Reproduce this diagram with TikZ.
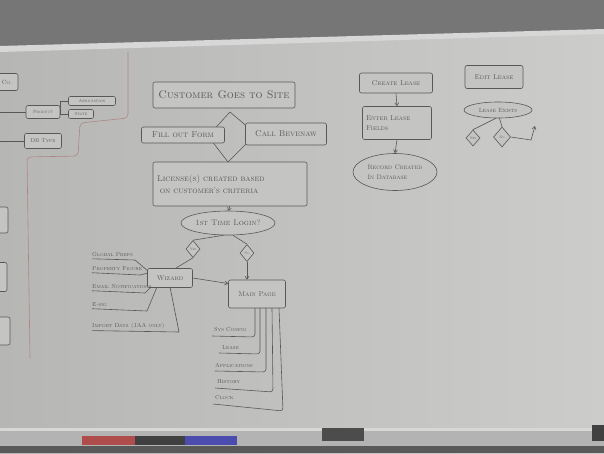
\documentclass[tikz,border=0pt]{standalone}
\usetikzlibrary{shapes.geometric,arrows.meta,calc}
\definecolor{inkc}{RGB}{88,88,88}
\definecolor{boardc}{RGB}{196,197,195}
\definecolor{boardl}{RGB}{182,183,181}
\definecolor{boardr}{RGB}{204,205,203}
\definecolor{wallc}{RGB}{118,118,118}
\definecolor{framec}{RGB}{214,215,214}
\definecolor{trayc}{RGB}{178,179,178}
\definecolor{redink}{RGB}{176,132,134}
\tikzset{
  ink/.style={draw=inkc, line width=0.6pt},
  arr/.style={ink, -{Straight Barb[length=3pt,width=4pt]}},
  box/.style={ink, rectangle, rounded corners=2pt, inner sep=1pt, fill=boardc, text=inkc, font=\scshape},
  oval/.style={ink, ellipse, inner sep=0pt, fill=boardc, text=inkc, font=\scshape},
  dia/.style={ink, diamond, inner sep=0pt, fill=boardc, text=inkc, font=\scshape\fontsize{3.5}{4}\selectfont},
  lbl/.style={inner sep=0pt, text=inkc, font=\scshape, anchor=west},
}
\begin{document}
\begin{tikzpicture}[x=1pt,y=-1pt]
\useasboundingbox (0,0) rectangle (604,453);
% board, wall and tray
\shade[left color=boardl, right color=boardr] (0,0) rectangle (604,453);
\fill[wallc] (0,0) -- (604,0) -- (604,30) -- (0,47) -- cycle;
\fill[framec] (0,46) -- (604,29) -- (604,34) -- (0,52) -- cycle;
\fill[trayc] (0,428) rectangle (604,446);
\fill[framec] (0,428) rectangle (604,431);
\fill[black!65] (0,446) rectangle (604,453);
\fill[red!55!black!70] (82,436) rectangle (135,445);
\fill[black!75] (135,436) rectangle (185,445);
\fill[blue!55!black!70] (185,436) rectangle (237,445);
\fill[black!70] (322,428) rectangle (364,441);
\fill[black!75] (592,425) rectangle (604,441);

% red divider
\draw[draw=redink, line width=0.6pt, rounded corners=4pt]
  (128,52) -- (128,118) -- (80,123) -- (78,156) -- (27,157) -- (30,358);

% left section
\node[box, minimum width=22pt, minimum height=17pt, font=\scshape\fontsize{6}{7}\selectfont] (co) at (7,82) {Co.};
\node[box, minimum width=34pt, minimum height=13pt, font=\scshape\fontsize{4.5}{5}\selectfont] (prod) at (43,112) {Product};
\node[box, minimum width=47pt, minimum height=9pt, font=\scshape\fontsize{4.5}{5}\selectfont] (assoc) at (92,101) {Association};
\node[box, minimum width=25pt, minimum height=9pt, font=\scshape\fontsize{4.5}{5}\selectfont] (state) at (81,114) {State};
\node[box, minimum width=37pt, minimum height=15pt, font=\scshape\fontsize{5.5}{6}\selectfont] (db) at (43,141) {DB Type};
\coordinate (lp) at (0,112);
\coordinate (ld) at (0,141);
\draw[ink] (lp) -- (prod.west);
\draw[ink] (ld) -- (db.west);
\draw[ink] (assoc.west) -- ++(-8,0) |- (state.west);
\node[box, minimum width=16pt, minimum height=26pt] (l1) at (0,220) {};
\node[box, minimum width=16pt, minimum height=29pt] (l2) at (-1,277) {};
\node[box, minimum width=20pt, minimum height=28pt] (l3) at (0,331) {};

% main flow
\coordinate (dT) at (230,112);
\coordinate (dL) at (208,136);
\coordinate (dR) at (256,134);
\coordinate (dB) at (228,162);
\draw[ink] (dT) -- (dL) -- (dB) -- (dR) -- cycle;
\node[box, minimum width=142pt, minimum height=26pt, font=\scshape\fontsize{11}{13}\selectfont] (site) at (224,95) {Customer Goes to Site};
\node[box, minimum width=83pt, minimum height=16pt, font=\scshape\fontsize{8.5}{10}\selectfont] (fill) at (183,135) {Fill out Form};
\node[box, minimum width=81pt, minimum height=22pt, font=\scshape\fontsize{8.5}{10}\selectfont] (call) at (286,134) {Call Bevenaw};
\node[box, minimum width=154pt, minimum height=44pt, text width=146pt, align=left, font=\scshape\fontsize{8.5}{12}\selectfont] (lic) at (230,184) {License(s) created based\\ \ on customer's criteria};
\node[oval, minimum width=94pt, minimum height=24pt, font=\scshape\fontsize{8}{9}\selectfont] (login) at (228,223) {1st Time Login?};
\draw[arr] (lic.south) -- (login.north);

\node[dia, minimum width=14pt, minimum height=17pt] (yes) at (193,249) {Yes};
\node[dia, minimum width=14pt, minimum height=17pt] (no) at (247,253) {No};
\node[box, minimum width=45pt, minimum height=19pt, font=\scshape\fontsize{7}{8}\selectfont] (wiz) at (170,278) {Wizard};
\node[box, minimum width=57pt, minimum height=28pt, font=\scshape\fontsize{7}{8}\selectfont] (main) at (257,294) {Main Page};
\draw[ink] (login.250) -- (yes.north);
\draw[ink] (yes.south) -- (wiz.60);
\draw[ink] (login.292) -- (no.north);
\draw[arr] (no.south) -- (no.south |- main.north);
\draw[arr] (wiz.east) -- (main.160);

% wizard items
\tikzset{wl/.style={lbl, font=\scshape\fontsize{5.8}{6}\selectfont}}
\node[wl] (gp) at (92,255) {Global Prefs};
\node[wl] (pf) at (92,269) {Property Figure};
\node[wl] (en) at (92,287) {Email Notifications};
\node[wl] (es) at (92,305) {E-sig};
\node[wl] (im) at (92,326) {Import Data (JAA only)};
\coordinate (w1) at (148,271);
\coordinate (w2) at (148,273);
\coordinate (w3) at (151,287);
\coordinate (w4) at (157,287);
\coordinate (w5) at (170,287);
\draw[ink] (gp.south west) ++(0,1.5) -- (135,260) -- (w1);
\draw[ink] (pf.south west) ++(0,1.5) -- (140,275) -- (w2);
\draw[ink] (en.south west) ++(0,1.5) -- (145,293) -- (w3);
\draw[ink] (es.south west) ++(0,1.5) -- (147,311) -- (w4);
\draw[ink] (im.south west) ++(0,1.5) -- (179,332) -- (w5);

% main page items
\tikzset{ml/.style={lbl, font=\scshape\fontsize{5.8}{6}\selectfont}}
\node[ml] (sc) at (214,330) {Sys Config};
\node[ml] (le) at (222,348) {Lease};
\node[ml] (ap) at (215,365) {Applications};
\node[ml] (hi) at (217,382) {History};
\node[ml] (cl) at (215,398) {Clock};
\coordinate (m1) at (255,308);
\coordinate (m2) at (260,308);
\coordinate (m3) at (266,308);
\coordinate (m4) at (272,308);
\coordinate (m5) at (279,308);
\draw[ink, rounded corners=3pt] (212,336) -- (255,337) -- (m1);
\draw[ink, rounded corners=3pt] (219,353) -- (260,354) -- (m2);
\draw[ink, rounded corners=3pt] (215,371) -- (266,372) -- (m3);
\draw[ink, rounded corners=3pt] (215,388) -- (273,392) -- (m4);
\draw[ink, rounded corners=3pt] (213,404) -- (283,411) -- (m5);

% create lease
\node[box, minimum width=73pt, minimum height=20pt, font=\scshape\fontsize{7}{8}\selectfont] (create) at (396,83) {Create Lease};
\node[box, minimum width=69pt, minimum height=33pt, text width=62pt, align=left, font=\scshape\fontsize{7}{10}\selectfont] (enter) at (397,123) {Enter Lease\\Fields};
\node[oval, minimum width=84pt, minimum height=37pt, align=left, font=\scshape\fontsize{6.5}{10}\selectfont] (record) at (395,172) {Record Created\\In Database};
\draw[arr] (create.south) -- (enter.north);
\draw[arr] (enter.south) -- (record.north);

% edit lease
\node[box, minimum width=58pt, minimum height=23pt, font=\scshape\fontsize{7}{8}\selectfont] (edit) at (494,77) {Edit Lease};
\node[oval, minimum width=68pt, minimum height=16pt, font=\scshape\fontsize{6}{7}\selectfont] (exists) at (498,110) {Lease Exists};
\node[dia, minimum width=14pt, minimum height=16pt] (yes2) at (473,138) {Yes};
\node[dia, minimum width=17pt, minimum height=20pt] (no2) at (502,137) {No};
\draw[ink] (exists.255) -- (yes2.north);
\draw[ink] (exists.280) -- (no2.north);
\coordinate (bend) at (531,140);
\coordinate (up) at (535,126);
\draw[arr] (no2.east) -- (bend) -- (up);
\end{tikzpicture}
\end{document}
